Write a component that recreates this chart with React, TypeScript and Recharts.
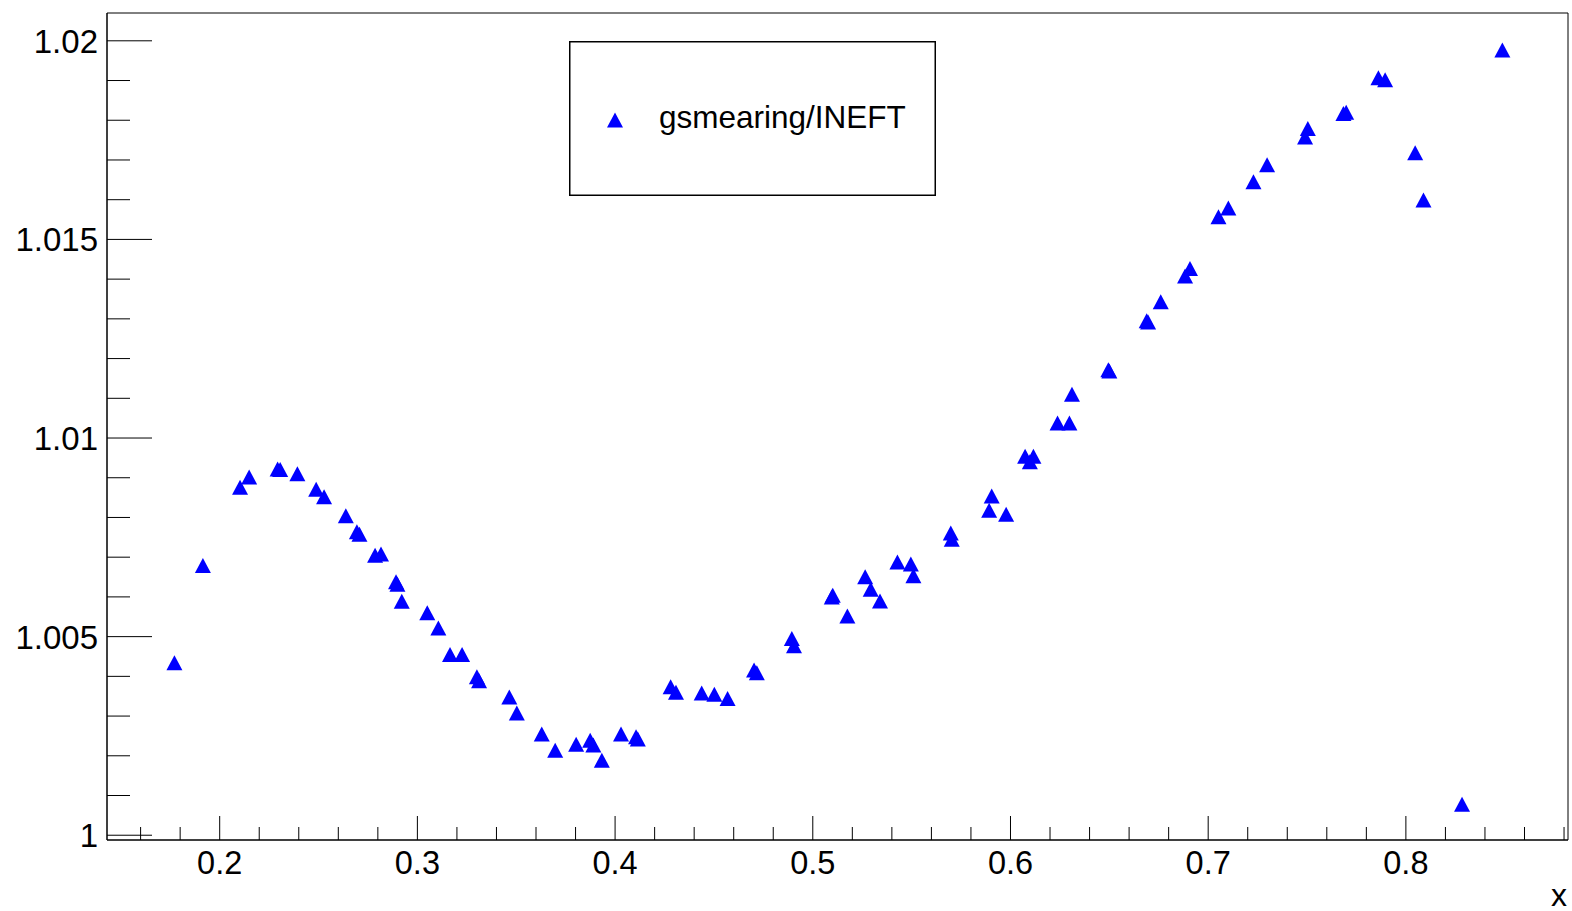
import React from 'react';
import { ScatterChart, Scatter, XAxis, YAxis, ReferenceArea, Legend } from 'recharts';

// points
const xValues = [
  0.1771, 0.1915, 0.2103, 0.2149, 0.2293, 0.2306, 0.2393, 0.2488, 0.2528, 0.2638,
  0.2694, 0.2707, 0.2786, 0.2816, 0.2892, 0.2899, 0.2921, 0.3050, 0.3106, 0.3165,
  0.3226, 0.3301, 0.3312, 0.3465, 0.3503, 0.3629, 0.3697, 0.3803, 0.3874, 0.3890,
  0.3933, 0.4030, 0.4106, 0.4115, 0.4281, 0.4308, 0.4438, 0.4502, 0.4569, 0.4703,
  0.4717, 0.4894, 0.4905, 0.5096, 0.5101, 0.5175, 0.5265, 0.5293, 0.5340, 0.5428,
  0.5496, 0.5509, 0.5698, 0.5703, 0.5905, 0.5892, 0.5978, 0.6074, 0.6116, 0.6098,
  0.6238, 0.6298, 0.6311, 0.6495, 0.6500, 0.6689, 0.6696, 0.6760, 0.6883, 0.6908,
  0.7052, 0.7102, 0.7229, 0.7298, 0.7490, 0.7504, 0.7684, 0.7698, 0.7861, 0.7895,
  0.8047, 0.8089, 0.8284, 0.8488,
];

const yValues = [
  1.00434, 1.00679, 1.00876, 1.00902, 1.00922, 1.00921, 1.00910, 1.00871, 1.00852, 1.00804,
  1.00764, 1.00758, 1.00705, 1.00708, 1.00638, 1.00632, 1.00589, 1.00560, 1.00522, 1.00455,
  1.00455, 1.00399, 1.00389, 1.00348, 1.00308, 1.00255, 1.00214, 1.00229, 1.00239, 1.00227,
  1.00189, 1.00255, 1.00248, 1.00242, 1.00374, 1.00360, 1.00358, 1.00355, 1.00344, 1.00416,
  1.00409, 1.00495, 1.00477, 1.00600, 1.00604, 1.00552, 1.00651, 1.00619, 1.00590, 1.00688,
  1.00683, 1.00653, 1.00761, 1.00745, 1.00854, 1.00818, 1.00808, 1.00954, 1.00954, 1.00940,
  1.01038, 1.01038, 1.01110, 1.01172, 1.01169, 1.01295, 1.01292, 1.01343, 1.01408, 1.01427,
  1.01557, 1.01579, 1.01645, 1.01688, 1.01758, 1.01779, 1.01817, 1.01820, 1.01907, 1.01902,
  1.01718, 1.01599, 1.00078, 1.01977,
];

const xMajorTicks = [0.2, 0.3, 0.4, 0.5, 0.6, 0.7, 0.8];
const xMajorLabels = ['0.2', '0.3', '0.4', '0.5', '0.6', '0.7', '0.8'];
const xMinorTicks = [
  0.16, 0.18, 0.22, 0.24, 0.26, 0.28, 0.32, 0.34, 0.36, 0.38, 0.42, 0.44, 0.46, 0.48,
  0.52, 0.54, 0.56, 0.58, 0.62, 0.64, 0.66, 0.68, 0.72, 0.74, 0.76, 0.78, 0.82, 0.84, 0.86, 0.88,
];

const yMajorTicks = [1.0, 1.005, 1.01, 1.015, 1.02];
const yMajorLabels = ['1', '1.005', '1.01', '1.015', '1.02'];
const yMinorTicks = [
  1.001, 1.002, 1.003, 1.004, 1.006, 1.007, 1.008, 1.009, 1.011, 1.012,
  1.013, 1.014, 1.016, 1.017, 1.018, 1.019,
];

const seriesName = 'gsmearing/INEFT';
const xTitle = 'x';

const xDomain = [0.143, 0.882];
const yDomain = [0.99988, 1.0207];

const data = xValues.map((x, i) => ({ x, y: yValues[i] }));
const xTicks = [...xMajorTicks, ...xMinorTicks].sort((a, b) => a - b);
const yTicks = [...yMajorTicks, ...yMinorTicks].sort((a, b) => a - b);

const FONT = '"Liberation Sans", Arial, Helvetica, sans-serif';
const BLUE = '#0000ff';

const indexOf = (list: number[], v: number) => list.findIndex((t) => Math.abs(t - v) < 1e-9);

const XTick = (props: any) => {
  const { x, y, payload } = props;
  const i = indexOf(xMajorTicks, payload.value);
  const len = i >= 0 ? 24 : 13;
  return (
    <g>
      <line x1={x} y1={y} x2={x} y2={y - len} stroke="#000" strokeWidth={1} />
      {i >= 0 && (
        <text x={x} y={y + 34} textAnchor="middle" fontSize={32.5} fontFamily={FONT} fill="#000">
          {xMajorLabels[i]}
        </text>
      )}
    </g>
  );
};

const YTick = (props: any) => {
  const { x, y, payload } = props;
  const i = indexOf(yMajorTicks, payload.value);
  const len = i >= 0 ? 45 : 23;
  return (
    <g>
      <line x1={x} y1={y} x2={x + len} y2={y} stroke="#000" strokeWidth={1} />
      {i >= 0 && (
        <text x={x - 9} y={y} dy="0.36em" textAnchor="end" fontSize={33} fontFamily={FONT} fill="#000">
          {yMajorLabels[i]}
        </text>
      )}
    </g>
  );
};

const triangle = (cx: number, cy: number) => {
  const w = 16;
  const h = 15;
  return `${cx},${cy - h / 2} ${cx + w / 2},${cy + h / 2} ${cx - w / 2},${cy + h / 2}`;
};

const TriangleDot = (props: any) => {
  const { cx, cy } = props;
  if (cx == null || cy == null) return null;
  return <polygon points={triangle(cx, cy)} fill={BLUE} />;
};

const XTitle = (props: any) => {
  const vb = props.viewBox;
  return (
    <text x={vb.x + vb.width - 1} y={vb.y + 66} textAnchor="end" fontSize={32} fontFamily={FONT} fill="#000">
      {xTitle}
    </text>
  );
};

const LegendBox = () => (
  <svg width={367} height={155} style={{ display: 'block' }}>
    <rect x={0.75} y={0.75} width={365.5} height={153.5} fill="#fff" stroke="#000" strokeWidth={1.5} />
    <polygon points={triangle(46, 79)} fill={BLUE} />
    <text x={90} y={87} fontSize={31.5} fontFamily={FONT} fill="#000">
      {seriesName}
    </text>
  </svg>
);

const App = () => {
  return (
    <div
      style={{
        position: 'absolute',
        left: 0,
        top: 0,
        width: 1572,
        height: 911,
        background: '#fff',
        fontFamily: FONT,
      }}
    >
      <ScatterChart width={1572} height={911} margin={{ top: 13, right: 4, bottom: 0, left: 0 }}>
        <XAxis
          type="number"
          dataKey="x"
          domain={xDomain}
          allowDataOverflow
          ticks={xTicks}
          interval={0}
          tick={<XTick />}
          tickSize={0}
          tickMargin={0}
          tickLine={false}
          axisLine={{ stroke: '#000' }}
          height={71}
          label={<XTitle />}
        />
        <YAxis
          type="number"
          dataKey="y"
          domain={yDomain}
          allowDataOverflow
          ticks={yTicks}
          interval={0}
          tick={<YTick />}
          tickSize={0}
          tickMargin={0}
          tickLine={false}
          axisLine={{ stroke: '#000' }}
          width={107}
        />
        <ReferenceArea
          x1={xDomain[0]}
          x2={xDomain[1]}
          y1={yDomain[0]}
          y2={yDomain[1]}
          fill="none"
          stroke="#000"
          strokeWidth={1}
          ifOverflow="visible"
        />
        <Legend
          layout="vertical"
          align="center"
          verticalAlign="middle"
          wrapperStyle={{ left: 569, top: 41, width: 367, height: 155 }}
          content={() => <LegendBox />}
        />
        <Scatter name={seriesName} data={data} fill={BLUE} shape={<TriangleDot />} isAnimationActive={false} />
      </ScatterChart>
    </div>
  );
};

export default App;
